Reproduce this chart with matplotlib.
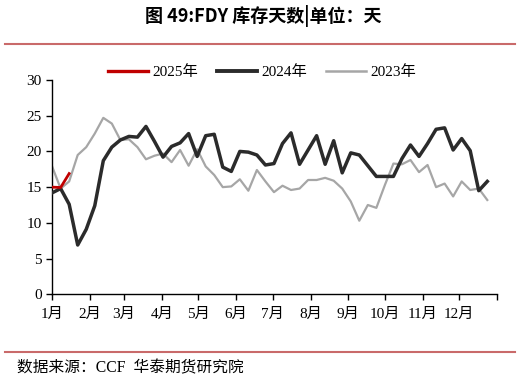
import numpy as np
import matplotlib.pyplot as plt
from matplotlib.lines import Line2D

# weekly FDY inventory days, one value per week from Jan 1
vals_2025 = [15.0, 14.95, 16.9]
vals_2024 = [14.2, 14.8, 12.6, 6.9, 9.1, 12.4, 18.7, 20.6, 21.6, 22.1,
             22.0, 23.5, 21.4, 19.2, 20.7, 21.2, 22.5, 19.3, 22.2, 22.4,
             17.8, 17.2, 20.0, 19.9, 19.5, 18.1, 18.3, 21.1, 22.6, 18.2,
             20.2, 22.2, 18.2, 21.5, 17.0, 19.8, 19.5, 18.0, 16.5, 16.5,
             16.5, 19.0, 20.9, 19.3, 21.1, 23.1, 23.3, 20.2, 21.8, 20.1,
             14.5, 15.8]
vals_2023 = [17.9, 14.8, 15.8, 19.5, 20.6, 22.5, 24.7, 23.9, 21.6, 21.7,
             20.6, 18.9, 19.4, 19.7, 18.5, 20.2, 18.0, 20.3, 17.9, 16.7,
             15.0, 15.1, 16.1, 14.5, 17.4, 15.8, 14.3, 15.2, 14.6, 14.8,
             16.0, 16.0, 16.3, 15.9, 14.8, 13.0, 10.3, 12.5, 12.1, 15.3,
             18.3, 18.2, 18.8, 17.1, 18.1, 15.0, 15.5, 13.7, 15.8, 14.6,
             14.8, 13.2]
month_labels = ["1月", "2月", "3月", "4月", "5月", "6月",
                "7月", "8月", "9月", "10月", "11月", "12月"]
month_start = [0, 31, 59, 90, 120, 151, 181, 212, 243, 273, 304, 334, 365]

serif = ["Liberation Serif", "Noto Sans CJK SC"]
plt.rcParams["font.family"] = serif

fig = plt.figure(figsize=(5.21, 3.82), dpi=100)
ax = fig.add_axes([0.1, 0.2296, 0.854, 0.561])

def days(v):
    return np.arange(len(v)) * 7

ax.plot(days(vals_2023), vals_2023, color="#a6a6a6", lw=1.6, zorder=2)
ax.plot(days(vals_2024), vals_2024, color="#2b2b2b", lw=2.5, zorder=3)
ax.plot(days(vals_2025), vals_2025, color="#c00000", lw=2.0, zorder=4)

ax.set_xlim(0, 365)
ax.set_ylim(0, 30)
ax.set_yticks(range(0, 31, 5))
ax.set_xticks(month_start)
ax.set_xticklabels(month_labels + [""])
ax.tick_params(direction="out", length=4, width=1, labelsize=11, colors="black")
ax.tick_params(axis="x", pad=6)
for s in ["top", "right"]:
    ax.spines[s].set_visible(False)
for s in ["left", "bottom"]:
    ax.spines[s].set_linewidth(1)
    ax.spines[s].set_color("black")

handles = [Line2D([], [], color="#c00000", lw=2.4),
           Line2D([], [], color="#2b2b2b", lw=2.8),
           Line2D([], [], color="#a6a6a6", lw=1.8)]
fig.legend(handles, ["2025年", "2024年", "2023年"], ncol=3, frameon=False,
           loc="center", bbox_to_anchor=(0.503, 0.8115), fontsize=11,
           handlelength=2.6, handletextpad=0.3, columnspacing=1.25)

fig.text(0.505, 1 - 16 / 382, "图 49:FDY 库存天数|单位：天", ha="center", va="center",
         fontsize=13, fontweight="bold", family=["Noto Sans CJK SC", "DejaVu Sans"])
fig.add_artist(Line2D([5 / 521, 515 / 521], [1 - 44 / 382, 1 - 44 / 382],
                      color="#c96a6a", lw=1.5))
fig.add_artist(Line2D([5 / 521, 515 / 521], [1 - 352 / 382, 1 - 352 / 382],
                      color="#c96a6a", lw=1.5))
fig.text(17 / 521, 1 - 368 / 382, "数据来源：CCF  华泰期货研究院", ha="left", va="center",
         fontsize=11.3, family=serif)

fig.savefig("out.png", dpi=100)
